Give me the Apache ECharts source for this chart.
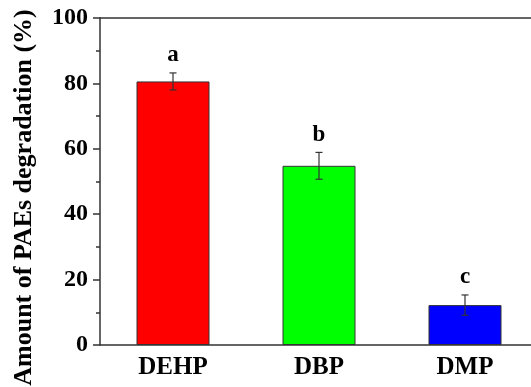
<!DOCTYPE html>
<html>
<head>
<meta charset="utf-8">
<script src="https://cdn.jsdelivr.net/npm/echarts@6/dist/echarts.min.js"></script>
<style>
html, body { margin: 0; padding: 0; background: #fff; }
#chart { width: 531px; height: 387px; }
</style>
</head>
<body>
<div id="chart"></div>
<script>
// PAEs degradation per compound
var categories = ['DEHP', 'DBP', 'DMP'];
var degradation = [80.6, 54.8, 12.2];
var errors = [2.6, 4.1, 3.1];
var letters = ['a', 'b', 'c'];
var barColors = ['#ff0000', '#00ff00', '#0000ff'];

var font = '"Liberation Serif", "Times New Roman", serif';
var axisColor = '#333';

var chart = echarts.init(document.getElementById('chart'));

var errData = [];
for (var i = 0; i < categories.length; i++) {
	errData.push([i, degradation[i] - errors[i], degradation[i] + errors[i], letters[i]]);
}

var option = {
	animation: false,
	grid: {
		left: 100, top: 18, width: 438, height: 327,
		outerBoundsMode: 'none',
		containLabel: false
	},
	xAxis: [{
		type: 'category',
		data: categories,
		axisLine: { lineStyle: { color: axisColor, width: 1.5 } },
		axisTick: { alignWithLabel: true, length: 5, lineStyle: { color: axisColor, width: 1.5 } },
		axisLabel: { color: '#000', fontFamily: font, fontWeight: 'bold', fontSize: 25, margin: 10 }
	}, {
		// boundary ticks between categories
		type: 'category',
		data: categories,
		position: 'bottom',
		axisLine: { show: false },
		axisTick: { length: 3, lineStyle: { color: axisColor, width: 1.5 } },
		axisLabel: { show: false }
	}, {
		// top frame line
		type: 'category',
		data: categories,
		position: 'top',
		axisLine: { show: true, lineStyle: { color: axisColor, width: 1.5 } },
		axisTick: { show: false },
		axisLabel: { show: false }
	}],
	yAxis: {
		type: 'value',
		min: 0, max: 100, interval: 20,
		name: 'Amount of PAEs degradation (%)',
		nameLocation: 'middle',
		nameGap: 63,
		nameTextStyle: {
			color: '#000', fontFamily: font, fontWeight: 'bold', fontSize: 26,
			padding: [0, 32, 0, 0]
		},
		axisLine: { show: true, lineStyle: { color: axisColor, width: 1.5 } },
		axisTick: { show: true, length: 7, lineStyle: { color: axisColor, width: 1.5 } },
		minorTick: { show: true, splitNumber: 2, length: 4, lineStyle: { color: axisColor, width: 1.5 } },
		splitLine: { show: false },
		axisLabel: { color: '#000', fontFamily: font, fontWeight: 'bold', fontSize: 24, margin: 12 }
	},
	series: [{
		type: 'bar',
		barWidth: '50%',
		data: degradation.map(function (v, i) {
			return { value: v, itemStyle: { color: barColors[i] } };
		}),
		itemStyle: { borderColor: '#333', borderWidth: 1 }
	}, {
		type: 'custom',
		data: errData,
		z: 10,
		renderItem: function (params, api) {
			var x = api.coord([api.value(0), 0])[0];
			var lo = api.coord([api.value(0), api.value(1)])[1];
			var hi = api.coord([api.value(0), api.value(2)])[1];
			var cap = 3.5;
			var style = { stroke: '#333', lineWidth: 1.2 };
			return {
				type: 'group',
				children: [
					{ type: 'line', shape: { x1: x, y1: lo, x2: x, y2: hi }, style: style },
					{ type: 'line', shape: { x1: x - cap, y1: lo, x2: x + cap, y2: lo }, style: style },
					{ type: 'line', shape: { x1: x - cap, y1: hi, x2: x + cap, y2: hi }, style: style },
					{
						type: 'text',
						style: {
							text: api.value(3), x: x, y: hi - 6,
							align: 'center', verticalAlign: 'bottom',
							fill: '#000', font: 'bold 23px ' + font
						}
					}
				]
			};
		}
	}]
};

chart.setOption(option);
</script>
</body>
</html>
